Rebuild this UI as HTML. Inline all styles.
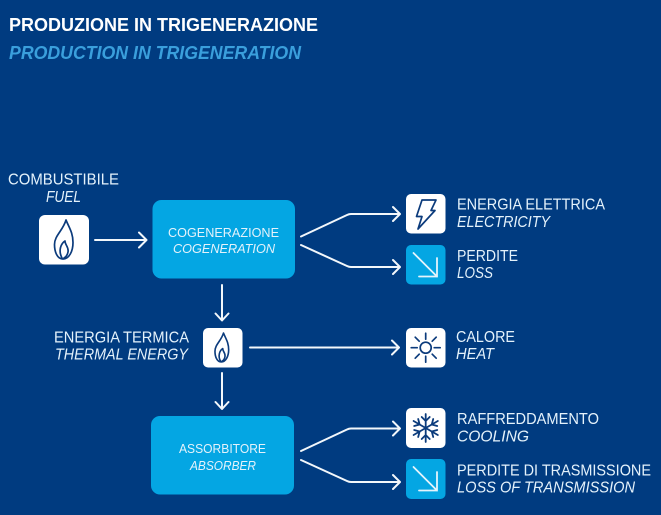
<!DOCTYPE html>
<html>
<head>
<meta charset="utf-8">
<style>
html,body{margin:0;padding:0;background:#003b80;}
svg{display:block;}
text{font-family:"Liberation Sans",sans-serif;fill:#e4f2fb;font-size:15.5px;}
.i{font-style:italic;}
.t{font-weight:bold;font-size:18px;fill:#fff;}
.s{font-weight:bold;font-style:italic;font-size:18px;fill:#3a9fdc;}
.b{font-size:13px;}
.a{fill:none;stroke:#f2f7fb;stroke-width:2;stroke-linecap:round;stroke-linejoin:round;}
.ic{fill:none;stroke:#0b3b7c;stroke-width:1.7;stroke-linecap:round;stroke-linejoin:round;}
.w{fill:#fff;}
.c{fill:#04a6e3;}
</style>
</head>
<body>
<svg width="661" height="515" viewBox="0 0 661 515" xmlns="http://www.w3.org/2000/svg">
<rect width="661" height="515" fill="#003b80"/>

<text class="t" x="9" y="31" textLength="309" lengthAdjust="spacingAndGlyphs">PRODUZIONE IN TRIGENERAZIONE</text>
<text class="s" x="9" y="59" textLength="292" lengthAdjust="spacingAndGlyphs">PRODUCTION IN TRIGENERATION</text>

<text x="8" y="184.500" textLength="111" lengthAdjust="spacingAndGlyphs">COMBUSTIBILE</text>
<text class="i" x="46" y="202" textLength="35" lengthAdjust="spacingAndGlyphs">FUEL</text>

<rect class="w" x="39" y="215" width="50" height="49.500" rx="6"/>
<g class="ic" transform="translate(64,239.500)">
<path d="M2,-19.500 C5,-12 9,-7 9,3 C9,12 5,19.500 -1,19.500 C-7,19.500 -9.500,12 -9.500,5 C-9.500,-4 -1,-9 2,-19.500 Z"/>
<path d="M-2,18.500 C-6,11 -3,4 1,1.500 C1,5.500 5,7.500 4,12.500 C3.500,15 2,17.500 0,18.500"/>
</g>

<path class="a" d="M95 240H146M139 232.500L146.500 240L139 247.500"/>

<rect class="c" x="152.500" y="200" width="142.500" height="78.500" rx="9"/>
<text class="b" x="168" y="237" textLength="111" lengthAdjust="spacingAndGlyphs">COGENERAZIONE</text>
<text class="b i" x="173" y="253" textLength="102" lengthAdjust="spacingAndGlyphs">COGENERATION</text>

<path class="a" d="M222 285V320M215.500 313.500L222 320.500L228.500 313.500"/>

<text x="54" y="342.500" textLength="135" lengthAdjust="spacingAndGlyphs">ENERGIA TERMICA</text>
<text class="i" x="55" y="359.500" textLength="133" lengthAdjust="spacingAndGlyphs">THERMAL ENERGY</text>

<rect class="w" x="203" y="328" width="39.500" height="39.500" rx="5"/>
<g class="ic" transform="translate(222,347.500) scale(.74)" style="stroke-width:2.200px">
<path d="M2,-19.500 C5,-12 9,-7 9,3 C9,12 5,19.500 -1,19.500 C-7,19.500 -9.500,12 -9.500,5 C-9.500,-4 -1,-9 2,-19.500 Z"/>
<path d="M-2,18.500 C-6,11 -3,4 1,1.500 C1,5.500 5,7.500 4,12.500 C3.500,15 2,17.500 0,18.500"/>
</g>

<path class="a" d="M222 373V408.500M215.500 402L222 409L228.500 402"/>
<path class="a" d="M250 347.500H398.500M392 340.500L399 347.500L392 354.500"/>

<rect class="c" x="151" y="416" width="143" height="78.500" rx="9"/>
<text class="b" x="179" y="453" textLength="87" lengthAdjust="spacingAndGlyphs">ASSORBITORE</text>
<text class="b i" x="190" y="470" textLength="66" lengthAdjust="spacingAndGlyphs">ABSORBER</text>

<path class="a" d="M301 236.500L347 215Q349 214 351 214H399.500M393 207L400 214L393 221"/>
<path class="a" d="M301 245L347 266Q349 267 351 267H399.500M393 260L400 267L393 274"/>
<path class="a" d="M301 451L347 429.500Q349 428.500 351 428.500H399.500M393 421.500L400 428.500L393 435.500"/>
<path class="a" d="M301 460L347 481Q349 482 351 482H399.500M393 475L400 482L393 489"/>

<rect class="w" x="406" y="194" width="39.500" height="39.500" rx="5"/>
<path class="ic" d="M422 200H436L431 210.500H435L418 229L422 216.500H416.500Z"/>
<text x="457" y="209.500" textLength="148" lengthAdjust="spacingAndGlyphs">ENERGIA ELETTRICA</text>
<text class="i" x="457" y="227" textLength="93" lengthAdjust="spacingAndGlyphs">ELECTRICITY</text>

<rect class="c" x="406" y="245" width="39.500" height="39.500" rx="5"/>
<path d="M413.500 253L437 276.500M419 276.500H437V258" fill="none" stroke="#e4f4fc" stroke-width="1.800" stroke-linecap="round"/>
<text x="457" y="261" textLength="61" lengthAdjust="spacingAndGlyphs">PERDITE</text>
<text class="i" x="457" y="278" textLength="36" lengthAdjust="spacingAndGlyphs">LOSS</text>

<rect class="w" x="406" y="328" width="39.500" height="39.500" rx="5"/>
<g class="ic" transform="translate(425.700,347.700)">
<circle r="5.500"/>
<path d="M0 -8.500V-14.500M0 8.500V14.500M-8.500 0H-14.500M8.500 0H14.500M-6.500 -6.500L-10.500 -10.500M6.500 -6.500L10.500 -10.500M-6.500 6.500L-10.500 10.500M6.500 6.500L10.500 10.500"/>
</g>
<text x="456" y="342" textLength="59" lengthAdjust="spacingAndGlyphs">CALORE</text>
<text class="i" x="456" y="359" textLength="38" lengthAdjust="spacingAndGlyphs">HEAT</text>

<rect class="w" x="406" y="408" width="39.500" height="40" rx="5"/>
<g class="ic" transform="translate(425.700,428)" style="stroke-width:1.800px">
<path d="M0 -14V14M-4 -11L0 -7L4 -11M-4 11L0 7L4 11"/>
<g transform="rotate(60)"><path d="M0 -14V14M-4 -11L0 -7L4 -11M-4 11L0 7L4 11"/></g>
<g transform="rotate(120)"><path d="M0 -14V14M-4 -11L0 -7L4 -11M-4 11L0 7L4 11"/></g>
</g>
<text x="457" y="424" textLength="142" lengthAdjust="spacingAndGlyphs">RAFFREDDAMENTO</text>
<text class="i" x="457" y="441.500" textLength="72" lengthAdjust="spacingAndGlyphs">COOLING</text>

<rect class="c" x="406" y="459" width="39.500" height="40" rx="5"/>
<path d="M413.500 467L437 490.500M419 490.500H437V472" fill="none" stroke="#e4f4fc" stroke-width="1.800" stroke-linecap="round"/>
<text x="457" y="475.500" textLength="194" lengthAdjust="spacingAndGlyphs">PERDITE DI TRASMISSIONE</text>
<text class="i" x="457" y="492.500" textLength="178" lengthAdjust="spacingAndGlyphs">LOSS OF TRANSMISSION</text>
</svg>
</body>
</html>
